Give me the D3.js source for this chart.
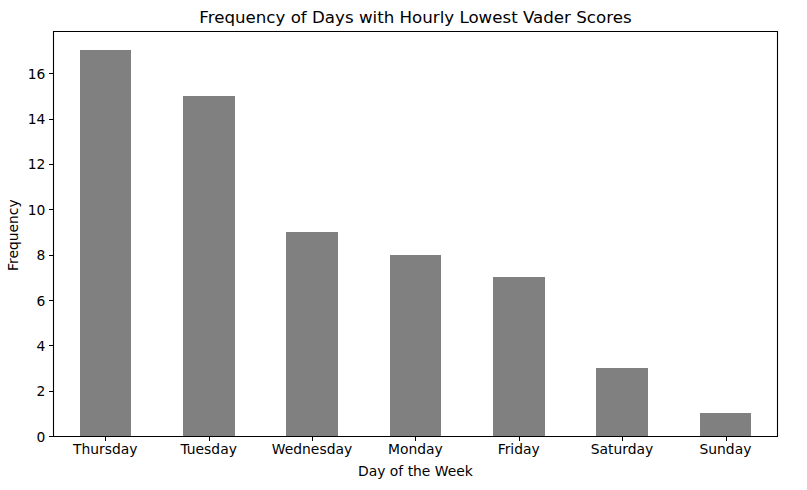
<!DOCTYPE html>
<html><head><meta charset="utf-8">
<script src="https://cdn.jsdelivr.net/npm/d3@7/dist/d3.min.js"></script>
<style>html,body{margin:0;padding:0;background:#fff}svg{display:block}text{font-family:"DejaVu Sans",sans-serif;fill:#000}</style>
</head><body><svg id="c" width="807" height="490"></svg>
<script>
const categories=["Thursday","Tuesday","Wednesday","Monday","Friday","Saturday","Sunday"];
const frequency=[17,15,9,8,7,3,1];
const yTicks=[0,2,4,6,8,10,12,14,16];
const title="Frequency of Days with Hourly Lowest Vader Scores";
const xTitle="Day of the Week", yTitle="Frequency";
const L=53.7,R=777.2,T=31.15,B=436.15;
const svg=d3.select("#c");
const x=d3.scaleLinear().domain([-0.5,6.5]).range([L,R]);
const y=d3.scaleLinear().domain([0,17.85]).range([B,T]);
const bw=x(0.5)-x(0);
svg.selectAll("rect.bar").data(frequency).join("rect").attr("class","bar")
 .attr("x",(d,i)=>x(i-0.25)).attr("width",bw).attr("y",d=>y(d)).attr("height",d=>B-y(d)).attr("fill","#808080").attr("shape-rendering","crispEdges");
const ax=svg.append("g").attr("transform",`translate(0,${B})`)
 .call(d3.axisBottom(x).tickValues(d3.range(categories.length)).tickFormat(i=>categories[i]).tickSize(4.86).tickPadding(3.5));
const ay=svg.append("g").attr("transform",`translate(${L},0)`)
 .call(d3.axisLeft(y).tickValues(yTicks).tickSize(4.86).tickPadding(3.5));
[ax,ay].forEach(g=>{g.selectAll("text").attr("font-size",13.89).style("font-family",'"DejaVu Sans"');g.select(".domain").remove();g.selectAll("line").attr("stroke","#000").attr("stroke-width",1).attr("shape-rendering","crispEdges")});
ax.selectAll("text").attr("dx",-0.6);
ay.selectAll("text").attr("dy","0.82em").attr("transform","translate(0,0)");
ay.selectAll("text").attr("dy",null).attr("y",5);
svg.append("path").attr("d",`M${Math.floor(L)+.5},${Math.floor(T)+.5}H${Math.floor(R)+.5}V${Math.floor(B)+.5}H${Math.floor(L)+.5}Z`).attr("fill","none").attr("stroke","#000").attr("stroke-width",1.1);
svg.append("text").attr("x",(L+R)/2).attr("y",22.5).attr("text-anchor","middle").attr("font-size",16.67).text(title);
svg.append("text").attr("x",(L+R)/2).attr("y",475.5).attr("text-anchor","middle").attr("font-size",13.89).text(xTitle);
svg.append("text").attr("transform",`translate(18,${(T+B)/2+1.5}) rotate(-90)`).attr("text-anchor","middle").attr("font-size",13.89).text(yTitle);
</script></body></html>
